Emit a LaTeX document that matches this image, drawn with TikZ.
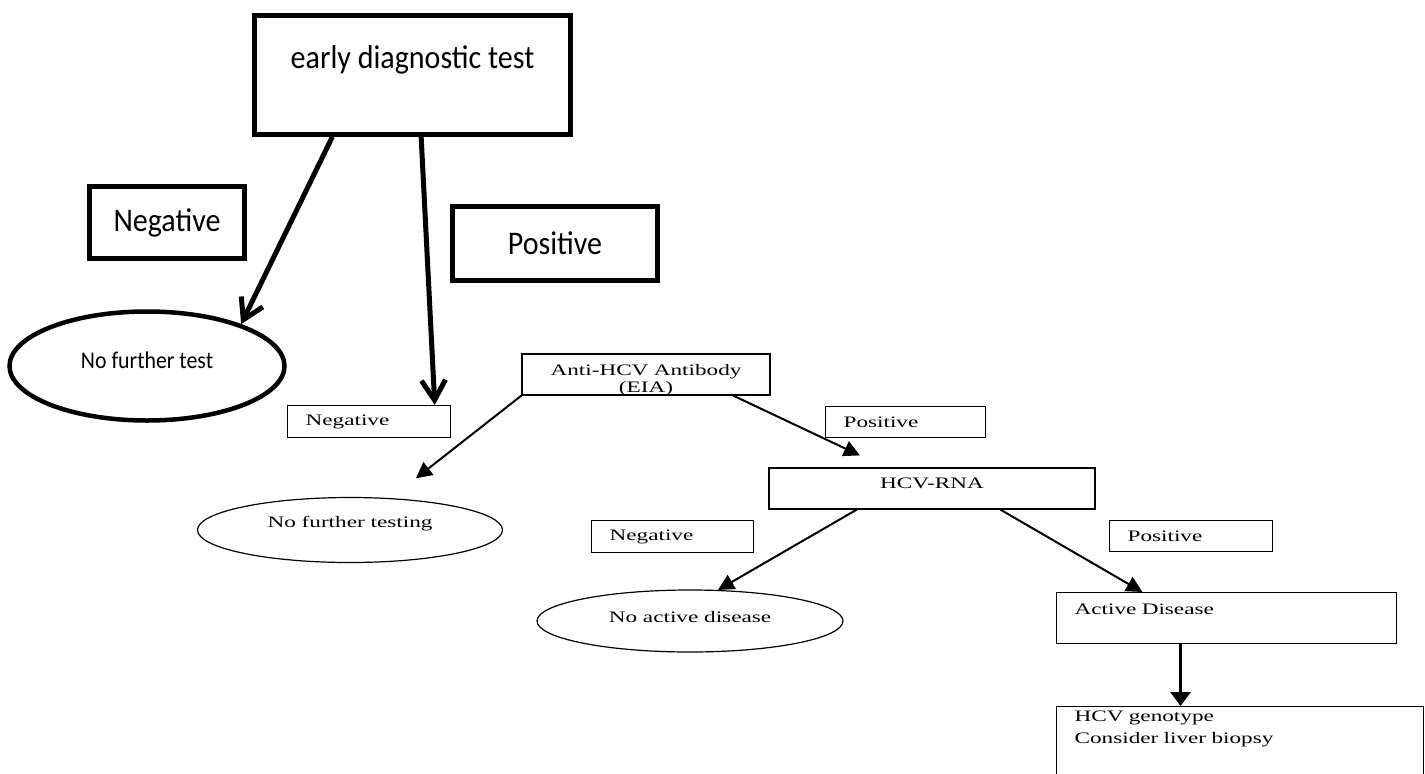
\documentclass[tikz,border=0pt]{standalone}
\usepackage{fontspec}
\newfontfamily\calibfont[FakeStretch=0.91]{Carlito}
\newfontfamily\printfont[FakeStretch=1.45]{Liberation Serif}
\usetikzlibrary{arrows.meta,positioning,calc,shapes.geometric}

\begin{document}
\begin{tikzpicture}[x=1pt, y=-1pt,
  heavybox/.style={draw, line width=4.5pt, rectangle, inner sep=0pt, font=\calibfont\fontsize{33}{38}\selectfont},
  heavyoval/.style={draw, line width=4.5pt, ellipse, inner sep=0pt, font=\calibfont\fontsize{24}{28}\selectfont},
  printbox/.style={draw, line width=1.2pt, rectangle, inner sep=0pt, font=\printfont\fontsize{16}{17}\selectfont},
  printoval/.style={draw, line width=1.2pt, ellipse, inner sep=0pt, font=\printfont\fontsize{16}{17}\selectfont},
  tagbox/.style={printbox, inner xsep=18pt, align=left},
  heavyarrow/.style={line width=5pt, -{Straight Barb[length=20pt,width=24pt]}},
  printarrow/.style={line width=2pt, -{Triangle[length=16pt,width=16pt]}}]
\fill[white] (0,0) rectangle (1425,774);
\useasboundingbox (0,0) rectangle (1425,774);
\clip (0,0) rectangle (1425,774);
% ---- upper chart: early test
\node[heavybox, minimum width=316pt, minimum height=119pt, text height=22pt, text depth=36pt] (early) at (412.5,75) {early diagnostic test};
\node[heavybox, minimum width=155pt, minimum height=72pt] (neg) at (167,222.5) {Negative};
\node[heavybox, minimum width=205pt, minimum height=74pt] (pos) at (555,243.5) {Positive};
\node[heavyoval, minimum width=275pt, minimum height=109pt, text height=15pt, text depth=11pt] (nofurther) at (147,366) {No further test};
% ---- lower chart: antibody and RNA
\node[tagbox, text width=127pt, minimum height=32pt, anchor=north west] (antineg) at (287,405) {Negative};
\node[printoval, minimum width=305pt, minimum height=65pt, text height=11pt, text depth=16pt] (notesting) at (350,530) {No further testing};
\node[printbox, minimum width=248pt, minimum height=41pt, text width=240pt, align=center, text height=11pt, text depth=9pt] (anti) at (646,374.5) {Anti-HCV Antibody\\(EIA)};
\node[tagbox, text width=124pt, minimum height=31pt, anchor=north west] (antipos) at (825,406) {Positive};
\node[printbox, minimum width=326pt, minimum height=41pt, text height=11pt, text depth=11pt] (rna) at (932,488.5) {HCV-RNA};
\node[tagbox, text width=126pt, minimum height=32pt, anchor=north west] (rnaneg) at (591,520) {Negative};
\node[printoval, minimum width=306pt, minimum height=62pt, text height=11pt, text depth=8pt] (noactive) at (690,621) {No active disease};
\node[tagbox, text width=127pt, minimum height=31pt, anchor=north west] (rnapos) at (1109,520) {Positive};
\node[tagbox, text width=304pt, minimum height=51pt, text height=11pt, text depth=19pt, anchor=north west] (active) at (1056,592) {Active Disease};
\node[tagbox, text width=331pt, minimum height=100pt, text height=11pt, text depth=82pt, anchor=north west, font=\printfont\fontsize{16}{22}\selectfont] (genotype) at (1056,706) {HCV genotype\\Consider liver biopsy};
% ---- connectors
\draw[heavyarrow] ($(early.south west)!0.25!(early.south east)$) -- (nofurther.24);
\draw[heavyarrow] ($(early.south west)!0.527!(early.south east)$) -- ($(antineg.north west)!0.9!(antineg.north east)$);
\draw[printarrow, shorten >=32pt] (anti.south west) -- (notesting);
\draw[printarrow, shorten >=28pt] ($(anti.south west)!0.85!(anti.south east)$) -- ($(rna.north west)!0.357!(rna.north east)$);
\draw[printarrow] ($(rna.south west)!0.27!(rna.south east)$) -- (noactive.48);
\draw[printarrow] ($(rna.south west)!0.709!(rna.south east)$) -- ($(active.north west)!0.253!(active.north east)$);
\coordinate (activeout) at ($(active.south west)!0.365!(active.south east)$);
\draw[line width=3pt, -{Triangle[length=14pt,width=20pt]}] (activeout) -- (activeout |- genotype.north);
\end{tikzpicture}
\end{document}
